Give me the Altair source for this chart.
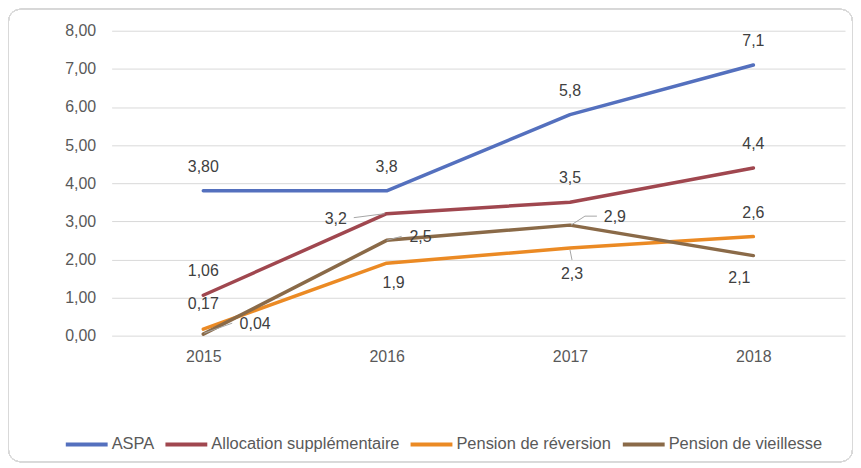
import altair as alt
import pandas as pd

years = ["2015", "2016", "2017", "2018"]
series = ["ASPA", "Allocation supplémentaire", "Pension de réversion", "Pension de vieillesse"]
colors = ["#5470BE", "#A0474F", "#EB8A24", "#8A6A48"]

aspa = [3.80, 3.8, 5.8, 7.1]
allocation = [1.06, 3.2, 3.5, 4.4]
reversion = [0.17, 1.9, 2.3, 2.6]
vieillesse = [0.04, 2.5, 2.9, 2.1]

aspa_labels = ["3,80", "3,8", "5,8", "7,1"]
allocation_labels = ["1,06", "3,2", "3,5", "4,4"]
reversion_labels = ["0,17", "1,9", "2,3", "2,6"]
vieillesse_labels = ["0,04", "2,5", "2,9", "2,1"]

y_ticks = [0, 1, 2, 3, 4, 5, 6, 7, 8]

# label placement (pixel offsets from the point), styling only
label_offsets = [
    [(0, -24), (0, -24), (0, -24), (0, -24)],
    [(0, -24), (-51, 5), (0, -24), (0, -24)],
    [(0, -25), (7, 20), (2, 26), (0, -24)],
    [(52, -10), (34, -3), (45, -8), (-14, 22)],
]
# leader lines: (series index, year index, start dx, start dy, end dx, end dy)
leaders = [
    (1, 1, -33, 4, -2, 0),
    (3, 1, 0, 0, 15, -4),
    (3, 0, 1, -1, 29, -11),
    (3, 2, 1, 0, 15, -9),
    (3, 2, 15, -9, 27, -9),
    (2, 2, 0, 2, 2, 12),
]

all_vals = [aspa, allocation, reversion, vieillesse]
all_labels = [aspa_labels, allocation_labels, reversion_labels, vieillesse_labels]

rows = []
for si, s in enumerate(series):
    for yi, y in enumerate(years):
        rows.append({"serie": s, "annee": y, "valeur": all_vals[si][yi],
                     "etiquette": all_labels[si][yi], "si": si, "yi": yi})
df = pd.DataFrame(rows)

FONT = "Liberation Sans"

x_enc = alt.X("annee:N", title=None, sort=years,
              scale=alt.Scale(type="point", padding=0.5),
              axis=alt.Axis(labelAngle=0, domain=False, ticks=False, labelPadding=13,
                            labelFontSize=16, labelColor="#595959", labelFont=FONT, grid=False))
y_enc = alt.Y("valeur:Q", title=None, scale=alt.Scale(domain=[0, 8], nice=False),
              axis=alt.Axis(values=y_ticks, domain=False, ticks=False, labelPadding=16,
                            labelFontSize=16, labelColor="#595959", labelFont=FONT,
                            labelOverlap=False, gridColor="#D9D9D9", gridWidth=1,
                            labelExpr="replace(format(datum.value, '.2f'), '.', ',')"))

base = alt.Chart(df)

frame = base.mark_rect(filled=False, stroke="#D9D9D9", strokeWidth=1, cornerRadius=12).encode(
    x=alt.value(-103.5), x2=alt.value(743.5), y=alt.value(-21.5), y2=alt.value(432.5)
)

lines = base.mark_line(strokeWidth=3.5, strokeCap="round", strokeJoin="round").encode(
    x=x_enc, y=y_enc,
    color=alt.Color("serie:N", sort=series,
                    scale=alt.Scale(domain=series, range=colors),
                    legend=alt.Legend(title=None, orient="none", direction="horizontal",
                                      legendX=-48, legendY=392,
                                      symbolType="stroke", symbolStrokeWidth=4, symbolSize=1764,
                                      labelFontSize=16.5, labelFont=FONT, labelColor="#595959",
                                      labelLimit=400, columnPadding=3, symbolOffset=0,
                                      labelOffset=2)),
    order=alt.Order("si:Q"),
)

layers = [frame, lines]

for (si, yi, sx, sy, ex, ey) in leaders:
    layers.append(
        base.transform_filter(f"datum.si == {si} && datum.yi == {yi}")
        .mark_rule(color="#A6A6A6", strokeWidth=1, xOffset=sx, yOffset=sy, x2Offset=ex, y2Offset=ey)
        .encode(x=x_enc, y=y_enc, x2="annee:N", y2="valeur:Q")
    )

for si in range(len(series)):
    for yi in range(len(years)):
        dx, dy = label_offsets[si][yi]
        layers.append(
            base.transform_filter(f"datum.si == {si} && datum.yi == {yi}")
            .mark_text(dx=dx, dy=dy, fontSize=16, font=FONT, color="#404040")
            .encode(x=x_enc, y=y_enc, text="etiquette:N")
        )

chart = alt.layer(*layers).properties(
    width=736, height=306,
    autosize=alt.AutoSizeParams(type="none"),
    padding={"left": 104, "top": 22, "right": 8, "bottom": 128},
    background="white",
).configure_view(stroke=None)

chart.save("out.html", embed_options={"renderer": "svg", "actions": False})
